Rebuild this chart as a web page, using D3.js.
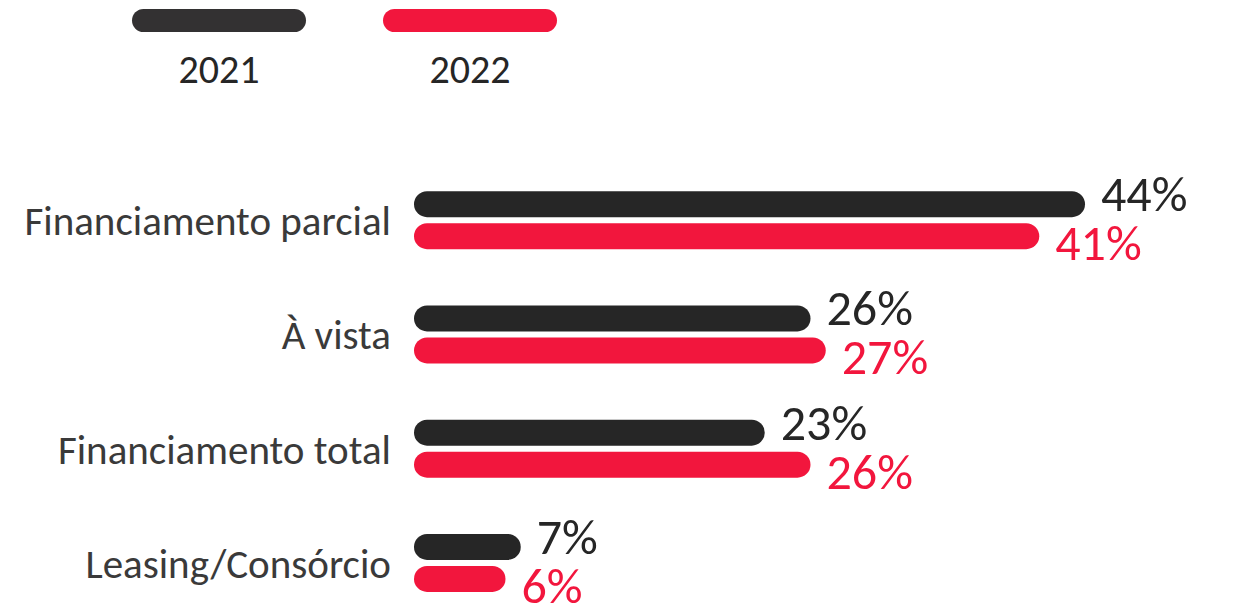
<!DOCTYPE html>
<html><head><meta charset="utf-8">
<script src="https://cdn.jsdelivr.net/npm/d3@7"></script>
<style>body{margin:0;background:#fff}svg{display:block}text{font-family:Carlito,Lato,sans-serif}</style>
</head><body><svg id="c" width="1235" height="607"></svg>
<script>
const categories = ["Financiamento parcial", "À vista", "Financiamento total", "Leasing/Consórcio"];
const seriesNames = ["2021", "2022"];
const values2021 = [44, 26, 23, 7];
const values2022 = [41, 27, 26, 6];
const colors = ["#262626", "#F2163D"];

const svg = d3.select("#c");
const x = d3.scaleLinear().domain([0, 44]).range([414, 1085]);
const y = d3.scaleBand().domain(categories).range([163, 620]).paddingInner(0).paddingOuter(0);
const barH = 26;

const rows = categories.map((c, i) => ({cat: c, vals: [values2021[i], values2022[i]]}));
const g = svg.append("g");
rows.forEach(r => {
  const cy = y(r.cat) + y.bandwidth() / 2;
  g.append("text").attr("x", 391).attr("y", cy + 15).attr("text-anchor", "end")
    .attr("font-size", 41).attr("fill", "#3a3a3a").text(r.cat);
  r.vals.forEach((v, j) => {
    const by = cy + (j === 0 ? -16 : 16);
    g.append("rect").attr("x", x(0)).attr("y", by - barH / 2)
      .attr("width", x(v) - x(0)).attr("height", barH).attr("rx", barH / 2)
      .attr("fill", colors[j]);
    g.append("text").attr("x", x(v) + 16).attr("y", j === 0 ? by + 7 : by + 24)
      .attr("font-size", 50).attr("fill", colors[j]).text(v + "%");
  });
});

// legend
const lx = d3.scalePoint().domain(seriesNames).range([219, 470]);
seriesNames.forEach((s, j) => {
  svg.append("rect").attr("x", lx(s) - 87).attr("y", 9).attr("width", 174).attr("height", 23)
    .attr("rx", 11.5).attr("fill", j === 0 ? "#333132" : colors[1]);
  svg.append("text").attr("x", lx(s)).attr("y", 83).attr("text-anchor", "middle")
    .attr("font-size", 40).attr("fill", "#262626").text(s);
});
</script></body></html>
